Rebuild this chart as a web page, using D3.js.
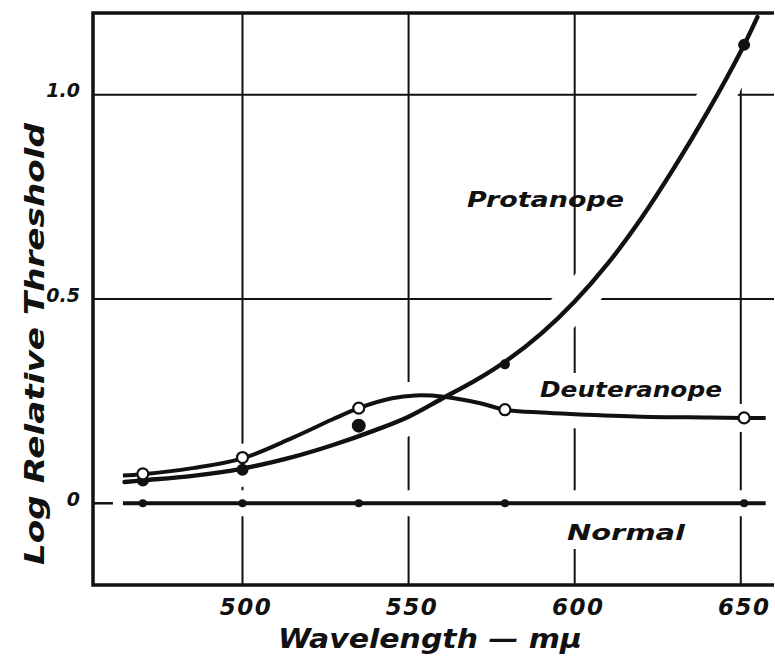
<!DOCTYPE html>
<html>
<head>
<meta charset="utf-8">
<script src="https://cdn.jsdelivr.net/npm/d3@7"></script>
<style>
  html, body { margin: 0; padding: 0; background: #fff; }
  svg { display: block; }
  text { font-family: "DejaVu Sans", sans-serif; font-weight: bold; font-style: italic; fill: #111; }
</style>
</head>
<body>
<svg id="chart" width="775" height="662"></svg>
<script>
// ---- data ----
const wavelengths = [470, 500, 535, 579, 651];
const deuteranope = [0.072, 0.112, 0.233, 0.229, 0.209];
const protanope = [0.056, 0.082, 0.19, 0.34, 1.122];
const normal = [0, 0, 0, 0, 0];

// hand-drawn smooth curves (wavelength, log threshold)
const deutCurveX = [464, 470, 485, 500, 515, 527, 535, 545, 552, 560.5, 571.6, 579, 590, 600, 620, 640, 651, 657.5];
const deutCurveY = [0.068, 0.071, 0.086, 0.110, 0.16, 0.205, 0.233, 0.257, 0.264, 0.261, 0.245, 0.229, 0.222, 0.218, 0.212, 0.210, 0.209, 0.209];
const protCurveX = [464.5, 470, 485, 500, 515, 527, 540, 550, 560, 570, 580, 590, 600, 610, 620, 630, 640, 650, 655];
const protCurveY = [0.052, 0.056, 0.067, 0.085, 0.113, 0.142, 0.179, 0.212, 0.256, 0.3, 0.352, 0.416, 0.494, 0.587, 0.697, 0.822, 0.958, 1.106, 1.19];
const normalCurveX = [464, 657.5];
const normalCurveY = [0, 0];

const xTicks = [500, 550, 600, 650];
const yTicks = [0, 0.5, 1.0];
const yTickLabels = ["0", "0.5", "1.0"];
const xTitle = "Wavelength — mμ";
const yTitle = "Log Relative Threshold";
const seriesLabels = ["Protanope", "Deuteranope", "Normal"];

// ---- drawing ----
const svg = d3.select("#chart");
const x = d3.scaleLinear().domain([455, 660]).range([93, 774]);
const y = d3.scaleLinear().domain([-0.2, 1.2]).range([585, 13]);

const ink = "#111";

// gridlines
const grid = svg.append("g").attr("class", "grid");
grid.selectAll("line.v").data(xTicks).join("line").attr("class", "v")
  .attr("x1", d => x(d)).attr("x2", d => x(d))
  .attr("y1", y(1.2)).attr("y2", y(-0.2))
  .attr("stroke", ink).attr("stroke-width", 2);
grid.selectAll("line.h").data(yTicks.filter(d => d !== 0)).join("line").attr("class", "h")
  .attr("x1", x(455)).attr("x2", x(660))
  .attr("y1", d => y(d)).attr("y2", d => y(d))
  .attr("stroke", ink).attr("stroke-width", 2);
grid.append("line")
  .attr("x1", x(455)).attr("x2", x(461))
  .attr("y1", y(0)).attr("y2", y(0))
  .attr("stroke", ink).attr("stroke-width", 2.5);

const line = d3.line().x(d => x(d[0])).y(d => y(d[1])).curve(d3.curveCatmullRom.alpha(0.5));
const deutPts = deutCurveX.map((v, i) => [v, deutCurveY[i]]);
const protPts = protCurveX.map((v, i) => [v, protCurveY[i]]);
const normPts = normalCurveX.map((v, i) => [v, normalCurveY[i]]);

// white gaps in the grid around the curves (as in the hand-drawn original)
const halo = svg.append("g").attr("class", "halo");
halo.append("path").attr("d", line(protPts)).attr("fill", "none").attr("stroke", "#fff").attr("stroke-width", 36);
halo.append("path").attr("d", line(deutPts)).attr("fill", "none").attr("stroke", "#fff").attr("stroke-width", 28);
halo.append("path").attr("d", line(normPts)).attr("fill", "none").attr("stroke", "#fff").attr("stroke-width", 26);

// frame: top, left, bottom (no right side)
svg.append("path")
  .attr("d", `M${x(660)},${y(1.2)} L${x(455)},${y(1.2)} L${x(455)},${y(-0.2)} L${x(660)},${y(-0.2)}`)
  .attr("fill", "none").attr("stroke", ink).attr("stroke-width", 3.5);

// series labels
const labelG = svg.append("g");
const labelSpecs = [
  { text: seriesLabels[0], x: 467, y: 207, w: 157, halo: false },
  { text: seriesLabels[1], x: 540, y: 397, w: 182, halo: true },
  { text: seriesLabels[2], x: 567, y: 540, w: 118, halo: true }
];
labelSpecs.forEach(s => {
  const t = labelG.append("text")
    .attr("x", s.x).attr("y", s.y)
    .attr("font-size", 22)
    .attr("textLength", s.w).attr("lengthAdjust", "spacingAndGlyphs")
    .text(s.text);
  if (s.halo) {
    const b = t.node().getBBox();
    labelG.insert("rect", "text")
      .attr("x", b.x - 6).attr("y", b.y - 4)
      .attr("width", b.width + 12).attr("height", b.height + 8)
      .attr("fill", "#fff");
  }
});

// curves
svg.append("path").attr("d", line(normPts)).attr("fill", "none").attr("stroke", ink).attr("stroke-width", 4);
svg.append("path").attr("d", line(deutPts)).attr("fill", "none").attr("stroke", ink).attr("stroke-width", 4);
svg.append("path").attr("d", line(protPts)).attr("fill", "none").attr("stroke", ink).attr("stroke-width", 4.4).attr("stroke-linecap", "round");

// data points
const protR = [6, 6, 7, 5, 6];
svg.append("g").selectAll("circle").data(wavelengths).join("circle")
  .attr("cx", d => x(d)).attr("cy", (d, i) => y(normal[i])).attr("r", 4).attr("fill", ink);
svg.append("g").selectAll("circle").data(wavelengths).join("circle")
  .attr("cx", d => x(d)).attr("cy", (d, i) => y(protanope[i])).attr("r", (d, i) => protR[i]).attr("fill", ink);
svg.append("g").selectAll("circle").data(wavelengths).join("circle")
  .attr("cx", d => x(d)).attr("cy", (d, i) => y(deuteranope[i])).attr("r", 5.5)
  .attr("fill", "#fff").attr("stroke", ink).attr("stroke-width", 2.2);

// axes (labels only)
const xAxis = svg.append("g").attr("transform", `translate(0,${y(-0.2)})`)
  .call(d3.axisBottom(x).tickValues(xTicks).tickSize(0).tickFormat(d3.format("d")));
xAxis.select(".domain").remove();
xAxis.selectAll("text")
  .attr("y", 30).attr("dy", 0).attr("dx", 3)
  .attr("font-size", 23).attr("letter-spacing", 1.5)
  .style("font-family", "'DejaVu Sans', sans-serif").style("font-weight", "bold").style("font-style", "italic")
  .attr("fill", ink);

const yAxis = svg.append("g").attr("transform", `translate(${x(455)},0)`)
  .call(d3.axisLeft(y).tickValues(yTicks).tickSize(0).tickPadding(13).tickFormat((d, i) => yTickLabels[i]));
yAxis.select(".domain").remove();
yAxis.selectAll("text")
  .attr("dy", 0).attr("y", 2)
  .attr("font-size", 19)
  .style("font-family", "'DejaVu Sans', sans-serif").style("font-weight", "bold").style("font-style", "italic")
  .attr("fill", ink);

// axis titles
svg.append("text")
  .attr("x", 278).attr("y", 648)
  .attr("font-size", 26)
  .attr("textLength", 304).attr("lengthAdjust", "spacingAndGlyphs")
  .text(xTitle);
svg.append("text")
  .attr("transform", "translate(44,344) rotate(-90)")
  .attr("text-anchor", "middle")
  .attr("font-size", 27)
  .attr("textLength", 442).attr("lengthAdjust", "spacingAndGlyphs")
  .text(yTitle);
</script>
</body>
</html>
